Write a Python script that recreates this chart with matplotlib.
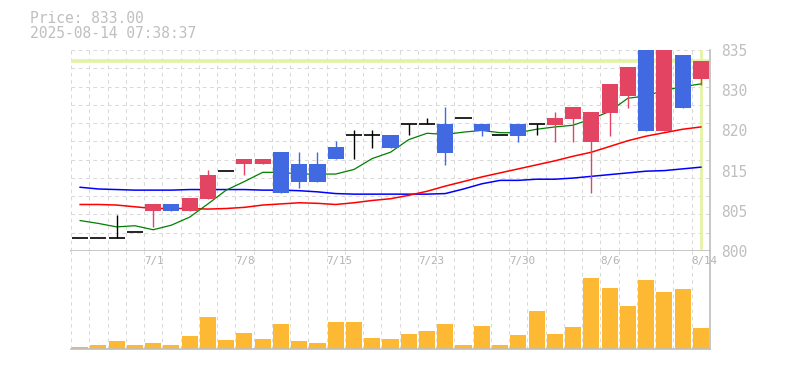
import numpy as np
import matplotlib
matplotlib.use('Agg')
import matplotlib.pyplot as plt
from matplotlib.transforms import blended_transform_factory

# daily candles, 6/25 .. 8/14
dates = ['6/25', '6/26', '6/27', '6/30', '7/1', '7/2', '7/3', '7/4', '7/7', '7/8',
         '7/9', '7/10', '7/11', '7/14', '7/15', '7/16', '7/17', '7/18', '7/22', '7/23',
         '7/24', '7/25', '7/28', '7/29', '7/30', '7/31', '8/1', '8/4', '8/5', '8/6',
         '8/7', '8/8', '8/12', '8/13', '8/14']
opens = [802.2, 802.2, 802.2, 803.3, 807.0, 808.2, 807.0, 809.05, 814.0, 815.1,
         815.1, 817.2, 815.15, 815.15, 818.1, 820.2, 820.2, 820.2, 822.1, 822.1,
         822.1, 823.1, 822.1, 820.15, 822.1, 822.1, 821.94, 822.98, 819.0, 824.03,
         827.0, 837.0, 820.9, 834.1, 829.95]
highs = [802.2, 802.2, 806.3, 803.3, 808.2, 808.2, 809.2, 814.1, 814.0, 816.1,
         816.1, 817.2, 817.2, 817.2, 819.15, 821.07, 821.07, 820.2, 822.1, 823.2,
         825.07, 823.1, 822.1, 820.15, 822.1, 822.1, 824.2, 825.07, 824.2, 829.08,
         832.04, 837.0, 837.0, 834.1, 833.08]
lows = [802.2, 802.2, 802.2, 803.3, 804.1, 807.0, 807.0, 809.05, 814.0, 813.2,
        815.1, 810.15, 811.0, 812.07, 816.0, 816.0, 817.9, 817.9, 820.15, 822.1,
        815.0, 823.1, 820.0, 820.15, 819.0, 820.15, 819.0, 819.0, 810.1, 820.0,
        824.9, 820.9, 820.9, 824.9, 828.9]
closes = [802.2, 802.2, 802.2, 803.3, 808.2, 807.0, 809.2, 813.2, 814.0, 816.1,
          816.1, 810.15, 812.07, 812.07, 816.0, 820.2, 820.2, 817.9, 822.1, 822.1,
          817.1, 823.1, 820.9, 820.15, 820.0, 822.1, 823.16, 825.07, 824.2, 829.08,
          832.04, 820.9, 837.0, 824.9, 833.08]
volumes = [2, 4, 8, 4, 6, 4, 13, 32, 9, 16, 10, 25, 8, 6, 27, 27, 11, 10, 15, 18,
           25, 4, 23, 4, 14, 38, 15, 22, 71, 61, 43, 69, 57, 60, 21]

ma_short = [805.3, 804.8, 804.2, 804.4, 803.7, 804.5, 805.9, 808.2, 810.6, 812.1,
            813.7, 813.7, 813.4, 813.4, 813.4, 814.2, 816.1, 817.2, 819.4, 820.5,
            820.3, 820.7, 821.0, 820.6, 820.6, 821.2, 821.6, 821.9, 823.0, 824.3,
            826.6, 827.0, 828.0, 828.6, 829.1]
ma_mid = [808.1, 808.1, 808.0, 807.7, 807.4, 807.4, 807.4, 807.3, 807.4, 807.6,
          808.0, 808.2, 808.4, 808.3, 808.1, 808.4, 808.8, 809.1, 809.7, 810.4,
          811.3, 812.1, 812.9, 813.6, 814.3, 815.0, 815.7, 816.5, 817.2, 818.2,
          819.2, 820.0, 820.6, 821.2, 821.6]
ma_long = [811.1, 810.8, 810.7, 810.6, 810.6, 810.6, 810.7, 810.7, 810.7, 810.7,
           810.6, 810.6, 810.5, 810.3, 810.0, 809.9, 809.9, 809.9, 809.9, 809.9,
           810.0, 810.8, 811.7, 812.3, 812.3, 812.5, 812.5, 812.7, 813.0, 813.3,
           813.6, 813.9, 814.0, 814.3, 814.6]

price = 833.00
stamp = '2025-08-14 07:38:37'
ytick_pos = [800, 807, 814, 821, 828, 835]
ytick_labels = ['800', '805', '815', '820', '830', '835']

up_col = '#e24461'
down_col = '#4169e1'
vol_col = '#fdb834'
grid_col = '#d9d9d9'
axis_col = '#bdbdbd'
text_col = '#bfbfbf'
mono = 'DejaVu Sans Mono'

fig = plt.figure(figsize=(7.85, 3.7), dpi=100)
ax = fig.add_axes([71 / 785, 119 / 370, 639 / 785, 201 / 370])
axv = fig.add_axes([71 / 785, 21 / 370, 639 / 785, 98 / 370])

n = len(dates)
x = np.arange(n)
o = np.array(opens)
h = np.array(highs)
l = np.array(lows)
c = np.array(closes)

# grid
for a in (ax, axv):
    for b in np.arange(-0.5, n, 1.0):
        a.axvline(b, color=grid_col, lw=0.75, ls=(0, (3.5, 3.5)), zorder=0)
for k in range(1, 12):
    ax.axhline(800 + 35 * k / 11, color=grid_col, lw=0.75, ls=(0, (3.5, 3.5)), zorder=0)

# price markers
ax.axhline(price, color='#e3f3a6', lw=2.6, zorder=1)
ax.axvline(x[-1], ymin=0.015, ymax=1, color='#e3f3a6', lw=2.0, zorder=1)

# moving averages
ax.plot(x, ma_long, color='blue', lw=1.1, zorder=2)
ax.plot(x, ma_mid, color='red', lw=1.1, zorder=2)
ax.plot(x, ma_short, color='green', lw=0.9, zorder=2)

# candles
w = 0.88
up = c > o
dn = c < o
eq = c == o
cols = np.where(up, up_col, np.where(dn, down_col, 'black'))
ax.vlines(x, l, h, colors=cols, lw=1.0, zorder=3)
ax.bar(x[up | dn], np.abs(c - o)[up | dn], bottom=np.minimum(o, c)[up | dn],
       width=w, color=cols[up | dn], zorder=4)
ax.hlines(c[eq], x[eq] - w / 2, x[eq] + w / 2, colors='black', lw=1.2, zorder=4)

ax.set_xlim(-0.5, n - 0.5)
ax.set_ylim(800, 835)
ax.set_xticks([])
ax.yaxis.tick_right()
ax.set_yticks(ytick_pos)
ax.set_yticklabels(ytick_labels, family=mono, fontsize=10.5, color=text_col)
ax.tick_params(axis='y', length=0, pad=8)
for s in ['top', 'left']:
    ax.spines[s].set_visible(False)
for s in ['bottom', 'right']:
    ax.spines[s].set_color(axis_col)
    ax.spines[s].set_linewidth(1.2)

# volume
axv.bar(x, volumes, width=w, color=vol_col, zorder=2)
axv.set_xlim(-0.5, n - 0.5)
axv.set_ylim(0, 98)
axv.set_xticks([])
axv.set_yticks([])
axv.spines['left'].set_visible(False)
axv.spines['top'].set_visible(False)
for s in ['bottom', 'right']:
    axv.spines[s].set_color(axis_col)
    axv.spines[s].set_linewidth(1.2)

tr = blended_transform_factory(axv.transData, axv.transAxes)
for i in range(4, n, 5):
    axv.text(i - 0.5, 0.95, dates[i], transform=tr, ha='left', va='top',
             family=mono, fontsize=7.8, color='#b3b3b3')

fig.text(30 / 785, 1 - 11 / 370, 'Price: %.2f' % price, ha='left', va='top',
         family=mono, fontsize=10.5, color=text_col)
fig.text(30 / 785, 1 - 26 / 370, stamp, ha='left', va='top',
         family=mono, fontsize=10.5, color=text_col)

fig.savefig('out.png', dpi=100)
